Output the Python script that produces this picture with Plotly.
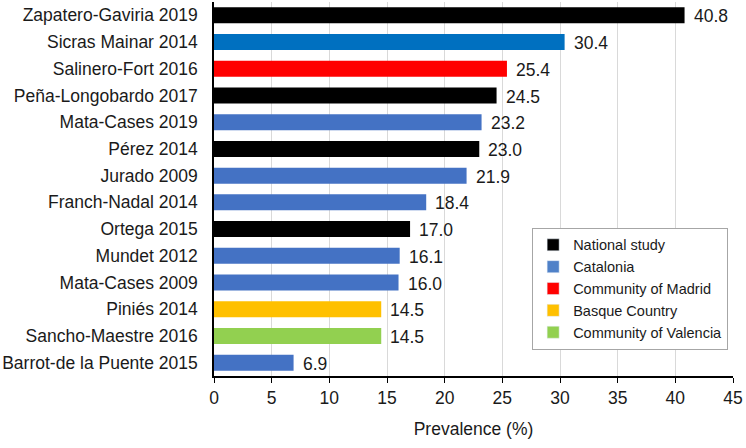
import plotly.graph_objects as go

studies = ["Zapatero-Gaviria 2019", "Sicras Mainar 2014", "Salinero-Fort 2016",
           "Peña-Longobardo 2017", "Mata-Cases 2019", "Pérez 2014", "Jurado 2009",
           "Franch-Nadal 2014", "Ortega 2015", "Mundet 2012", "Mata-Cases 2009",
           "Piniés 2014", "Sancho-Maestre 2016", "Barrot-de la Puente 2015"]
prevalence = [40.8, 30.4, 25.4, 24.5, 23.2, 23.0, 21.9, 18.4, 17.0, 16.1, 16.0, 14.5, 14.5, 6.9]
regions = ["National study", "Other", "Community of Madrid", "National study", "Catalonia",
           "National study", "Catalonia", "Catalonia", "National study", "Catalonia",
           "Catalonia", "Basque Country", "Community of Valencia", "Catalonia"]

legend_regions = ["National study", "Catalonia", "Community of Madrid",
                  "Basque Country", "Community of Valencia"]
region_colors = {"National study": "#000000", "Catalonia": "#4472C4",
                 "Community of Madrid": "#FF0000", "Basque Country": "#FFC000",
                 "Community of Valencia": "#92D050", "Other": "#0070C0"}
legend_colors = {"National study": "#000000", "Catalonia": "#4F81C8",
                 "Community of Madrid": "#FF0000", "Basque Country": "#FFC000",
                 "Community of Valencia": "#92D050"}

FONT = "Liberation Sans, Arial, sans-serif"
TXT = "#1a1a1a"
FS = 17.5

fig = go.Figure()
fig.add_trace(go.Bar(
    x=prevalence, y=studies, orientation="h",
    marker=dict(color=[region_colors[r] for r in regions], line=dict(width=0)),
    showlegend=False, hoverinfo="x+y", width=0.6))

for r in legend_regions:
    fig.add_trace(go.Bar(x=[None], y=[None], orientation="h", name=r,
                         marker=dict(color=legend_colors[r]), showlegend=True))

for s, v in zip(studies, prevalence):
    fig.add_annotation(x=v, y=s, text=f"{v:.1f}", showarrow=False,
                       xanchor="left", xshift=7, yshift=-1,
                       font=dict(family=FONT, size=FS, color=TXT))

fig.update_layout(
    width=746, height=448,
    margin=dict(l=214, r=13, t=2, b=72, autoexpand=False),
    paper_bgcolor="white", plot_bgcolor="white",
    barmode="overlay",
    font=dict(family=FONT, size=FS, color=TXT),
    legend=dict(x=0.613, y=0.396, xanchor="left", yanchor="top",
                bordercolor="#A6A6A6", borderwidth=1, bgcolor="white",
                font=dict(family=FONT, size=14.5, color=TXT),
                tracegroupgap=0, itemwidth=30),
    xaxis=dict(range=[0, 45], dtick=5, tick0=0, showgrid=True, automargin=False,
               gridcolor="#D9D9D9", gridwidth=1, showline=True,
               linecolor="black", linewidth=1.5, ticks="outside",
               ticklen=5, tickcolor="black", zeroline=False,
               tickfont=dict(family=FONT, size=FS, color=TXT),
               title=dict(text="Prevalence (%)", standoff=16,
                          font=dict(family=FONT, size=FS, color=TXT))),
    yaxis=dict(categoryorder="array", categoryarray=studies[::-1], automargin=False,
               autorange=False, range=[-0.5, len(studies) - 0.5],
               showline=True, linecolor="black", linewidth=1.5,
               ticks="", ticklabelstandoff=11, showgrid=False,
               tickfont=dict(family=FONT, size=FS, color=TXT)),
)

fig.write_html("out.html", config={"displayModeBar": False},
               post_script="document.body.style.margin='0';")
